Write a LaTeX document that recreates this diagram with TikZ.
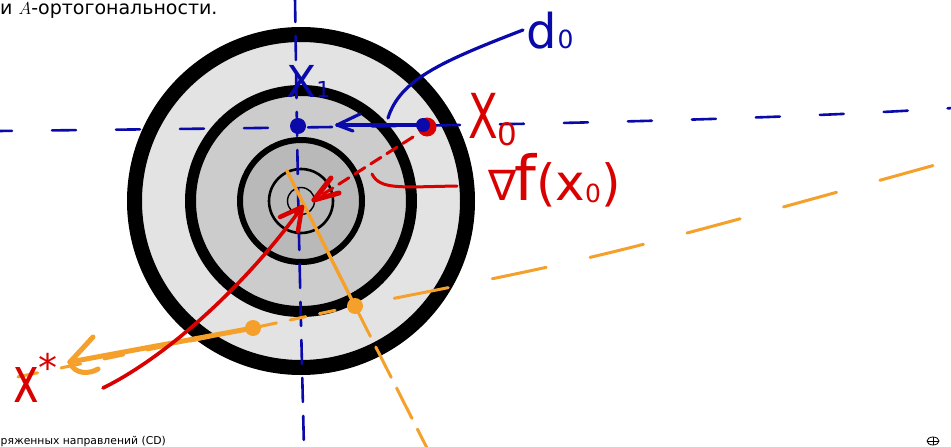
\documentclass[tikz,border=0pt]{standalone}
\usepackage{fontspec}
\newfontfamily\cyr{DejaVu Sans}
\newfontfamily\hand{DejaVu Sans}
\usetikzlibrary{arrows.meta}
\definecolor{penblue}{HTML}{0A0AAA}
\definecolor{penred}{HTML}{D90000}
\definecolor{penorange}{HTML}{F5A02A}
\definecolor{gA}{HTML}{E3E3E3}
\definecolor{gB}{HTML}{CCCCCC}
\definecolor{gC}{HTML}{B9B9B9}
\newcommand{\fs}[1]{\fontsize{#1}{#1}\selectfont}
\tikzset{
  bpen/.style={draw=penblue, line width=3.2pt, line cap=round, line join=round},
  rpen/.style={draw=penred, line width=3.6pt, line cap=round, line join=round},
  open/.style={draw=penorange, line width=3pt, line cap=round, line join=round},
  ring/.style={draw=black},
  pdot/.style={circle, inner sep=0pt, minimum size=16pt},
  lbl/.style={inner sep=0pt, font=\hand},
}
\begin{document}
\begin{tikzpicture}[x=1pt,y=-1pt]
\useasboundingbox (0,0) rectangle (951,447);
\clip (0,0) rectangle (951,447);
\fill[white] (0,0) rectangle (951,447);
% level sets
\coordinate (c) at (301,201);
\fill[gA] (c) circle[radius=166.5];
\draw[ring, line width=15pt] (c) circle[radius=166.5];
\fill[gB] (c) circle[radius=110.5];
\draw[ring, line width=11pt] (c) circle[radius=110.5];
\fill[gC] (c) circle[radius=61];
\draw[ring, line width=6pt] (c) circle[radius=61];
\draw[ring, line width=2.6pt] (c) circle[radius=32];
\draw[ring, line width=1.4pt] (c) circle[radius=13.5];
% header / footer
\node[anchor=base west, inner sep=0pt, font=\cyr\fs{19}] (hdr) at (0,14) {и $A$-ортогональности.};
\node[anchor=base east, inner sep=0pt, font=\cyr\fs{10.8}] (ftr) at (166,444) {сопряженных направлений (CD)};
\draw[line width=0.8pt] (933,441) ellipse[x radius=6, y radius=4];
\draw[line width=0.8pt] (927,441) -- (939,441) (933,437) -- (933,445);
% blue dashed axes
\coordinate (vtop) at (295,-2);
\coordinate (vbot) at (304,449);
\draw[bpen, line width=2.6pt, dash pattern=on 24pt off 14pt] (vtop) .. controls (298,200) .. (vbot);
\coordinate (hleft) at (-2,131);
\coordinate (hright) at (953,108);
\draw[bpen, line width=2.6pt, dash pattern=on 24pt off 40pt, dash phase=10pt] (hleft) .. controls (350,127) and (700,124) .. (hright);
% orange lines
\coordinate (otop) at (287,171);
\coordinate (obot) at (429,452);
\coordinate (oleft) at (-2,381);
\coordinate (oright) at (953,160);
\node[pdot, fill=penorange] (oA) at (253,328) {};
\node[pdot, fill=penorange] (oB) at (355,306) {};
\draw[open, line width=3.4pt] (otop) -- (oB.center);
\draw[open, dash pattern=on 34pt off 12pt] (oB.center) -- (obot);
\draw[open, dash pattern=on 16pt off 14pt, dash phase=-8pt] (oA.center) -- (oB.center);
\draw[open, dash pattern=on 55pt off 45pt, dash phase=-40pt] (oB.center) .. controls (600,258) .. (oright);
\draw[open, dash pattern=on 20pt off 24pt] (oA.center) -- (oleft);
\coordinate (otip) at (70,362);
\draw[open, line width=5pt] (oA.center) -- (otip);
\draw[open, line width=5pt] (otip) -- (93,337);
\draw[open, line width=5pt] (otip) .. controls (74,375) and (90,374) .. (98,369);
% red curve to center
\coordinate (xs) at (103,388);
\coordinate (rtip) at (302,207);
\draw[rpen] (xs) .. controls (170,355) and (250,280) .. (rtip);
\draw[rpen, line width=4.5pt] (rtip) -- (280,217);
\draw[rpen, line width=4.5pt] (rtip) -- (298,231);
% points x0, x1
\node[circle, inner sep=0pt, minimum width=19pt, minimum height=15pt, fill=penred] (x0r) at (427,127) {};
\node[pdot, minimum size=14pt, fill=penblue] (x0) at (423,125) {};
\node[pdot, fill=penblue] (x1) at (298,126) {};
% d0 arrow
\coordinate (btip) at (337,125);
\draw[bpen] (x0.center) -- (btip);
\draw[bpen] (btip) -- (360,114);
\draw[bpen] (btip) -- (353,131);
% red dashed -grad arrow
\coordinate (gstart) at (413,137);
\coordinate (gtip) at (314,200);
\draw[rpen, line width=3pt, dash pattern=on 12pt off 7pt] (gstart) -- (gtip);
\draw[rpen, line width=5pt] (gtip) -- (331,178);
\draw[rpen, line width=5pt] (gtip) -- (339,193);
% labels
\node[lbl, text=penblue, anchor=base west] (d0) at (526,48) {\fs{48}d\kern1pt\fs{25}0};
\coordinate (dfoot) at (388,118);
\draw[bpen] (dfoot) .. controls (400,80) and (440,62) .. (523,30);
\node[lbl, text=penblue, anchor=base west] (X1) at (286,97) {\fs{44}X\fs{22}1};
\node[lbl, text=penred, anchor=base west] (X0) at (468,138) {\scalebox{0.7}[1]{\fs{62}X}\raisebox{-7pt}{\fs{31}0}};
\node[lbl, text=penred, anchor=base west] (grad) at (488,200) {\fs{42}∇\kern-2pt\fs{62}f\fs{50}(x\raisebox{-2pt}{\fs{25}0}\fs{50})};
\coordinate (gfoot) at (372,174);
\draw[rpen, line width=3pt] (gfoot) .. controls (380,190) and (400,187) .. (457,186);
\node[lbl, text=penred, anchor=base west] (xstar) at (13,402) {\scalebox{0.68}[1]{\fs{64}x}\raisebox{21pt}{\fs{38}*}};
\end{tikzpicture}
\end{document}
